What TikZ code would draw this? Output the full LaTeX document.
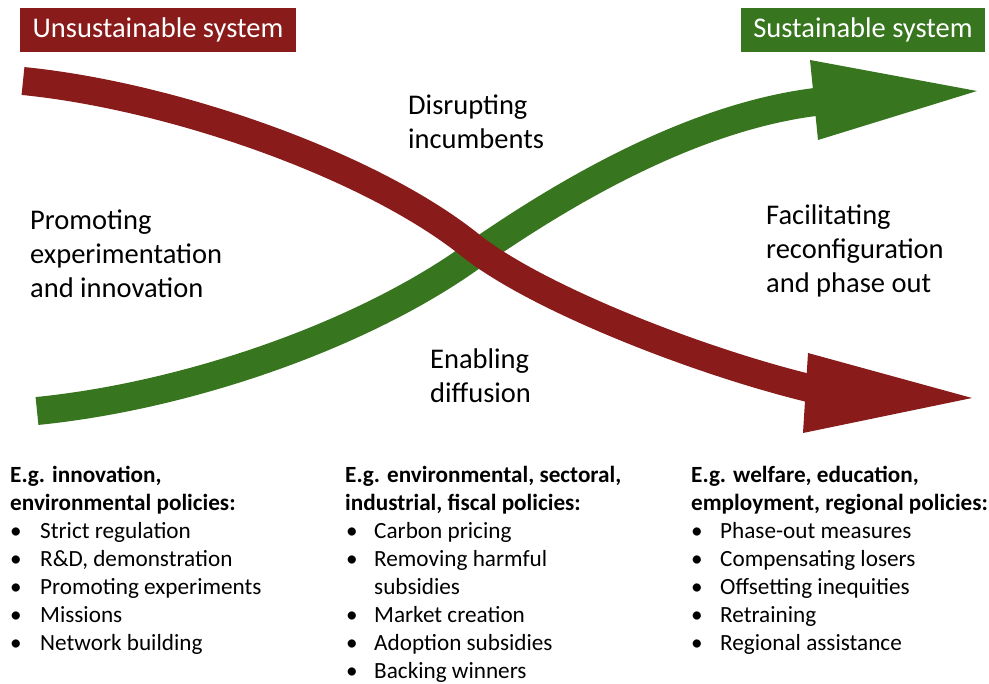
\documentclass[tikz,border=0pt]{standalone}
\usepackage{fontspec}
\setmainfont{Carlito}
\definecolor{unsred}{RGB}{137,28,26}
\definecolor{susgreen}{RGB}{55,118,30}
\begin{document}
\begin{tikzpicture}[x=1pt,y=-1pt,
  big/.style={anchor=base west, inner sep=0pt, font=\fontsize{28.5}{34}\selectfont},
  small/.style={anchor=base west, inner sep=0pt, font=\fontsize{23.2}{28}\selectfont},
  smallb/.style={anchor=base west, inner sep=0pt, font=\fontsize{23.2}{28}\selectfont\bfseries},
  hdr/.style={inner sep=0pt, text=white, minimum height=44pt, font=\fontsize{28.5}{30}\selectfont},
  shaft/.style={line width=28pt, line cap=butt}]
\useasboundingbox (0,0) rectangle (989,684);

% header boxes
\node[hdr, fill=unsred, minimum width=276pt] (uns) at (158,30) {Unsustainable system};
\node[hdr, fill=susgreen, minimum width=244pt] (sus) at (863,30) {Sustainable system};

% green arrow (below)
\draw[shaft, susgreen] (37,411) .. controls (187,396) and (360,336) .. (470,258)
  .. controls (560,195) and (700,110) .. (835,100);
\fill[susgreen] (810,60) -- (977,91) -- (818,140) -- cycle;

% red arrow (on top)
\draw[shaft, unsred] (23,81) .. controls (173,96) and (370,165) .. (470,245)
  .. controls (540,301) and (720,370) .. (835,394);
\fill[unsred] (808,353) -- (972,398) -- (803,433) -- cycle;

% phase labels
\node[big] (p1) at (30,230) {Promoting};
\node[big] (p2) at (30,264) {experimentation};
\node[big] (p3) at (30,298) {and innovation};
\node[big] (d1) at (408,115) {Disrupting};
\node[big] (d2) at (408,149) {incumbents};
\node[big] (e1) at (430,369) {Enabling};
\node[big] (e2) at (430,403) {diffusion};
\node[big] (f1) at (766,225) {Facilitating};
\node[big] (f2) at (766,259) {reconfiguration};
\node[big] (f3) at (766,293) {and phase out};

% column 1
\node[smallb] (a0) at (10,483) {E.g. innovation,};
\node[smallb] (a00) at (10,511) {environmental policies:};
\foreach \t [count=\i] in {Strict regulation, {R\&D, demonstration}, Promoting experiments, Missions, Network building}{
  \node[small] (ab\i) at (10,{511+28*\i}) {•};
  \node[small] (at\i) at (40,{511+28*\i}) {\t};
}

% column 2
\node[smallb] (b0) at (345,483) {E.g. environmental, sectoral,};
\node[smallb] (b00) at (345,511) {industrial, fiscal policies:};
\foreach \t/\y/\bul in {Carbon pricing/539/1, Removing harmful/567/1, subsidies/595/0, Market creation/623/1, Adoption subsidies/651/1, Backing winners/678/1}{
  \ifnum\bul=1 \node[small] (bb\y) at (346,\y) {•};\fi
  \node[small] (bt\y) at (374,\y) {\t};
}

% column 3
\node[smallb] (c0) at (691,483) {E.g. welfare, education,};
\node[smallb] (c00) at (691,511) {employment, regional policies:};
\foreach \t [count=\i] in {Phase-out measures, Compensating losers, Offsetting inequities, Retraining, Regional assistance}{
  \node[small] (cb\i) at (691,{511+28*\i}) {•};
  \node[small] (ct\i) at (720,{511+28*\i}) {\t};
}
\end{tikzpicture}
\end{document}
